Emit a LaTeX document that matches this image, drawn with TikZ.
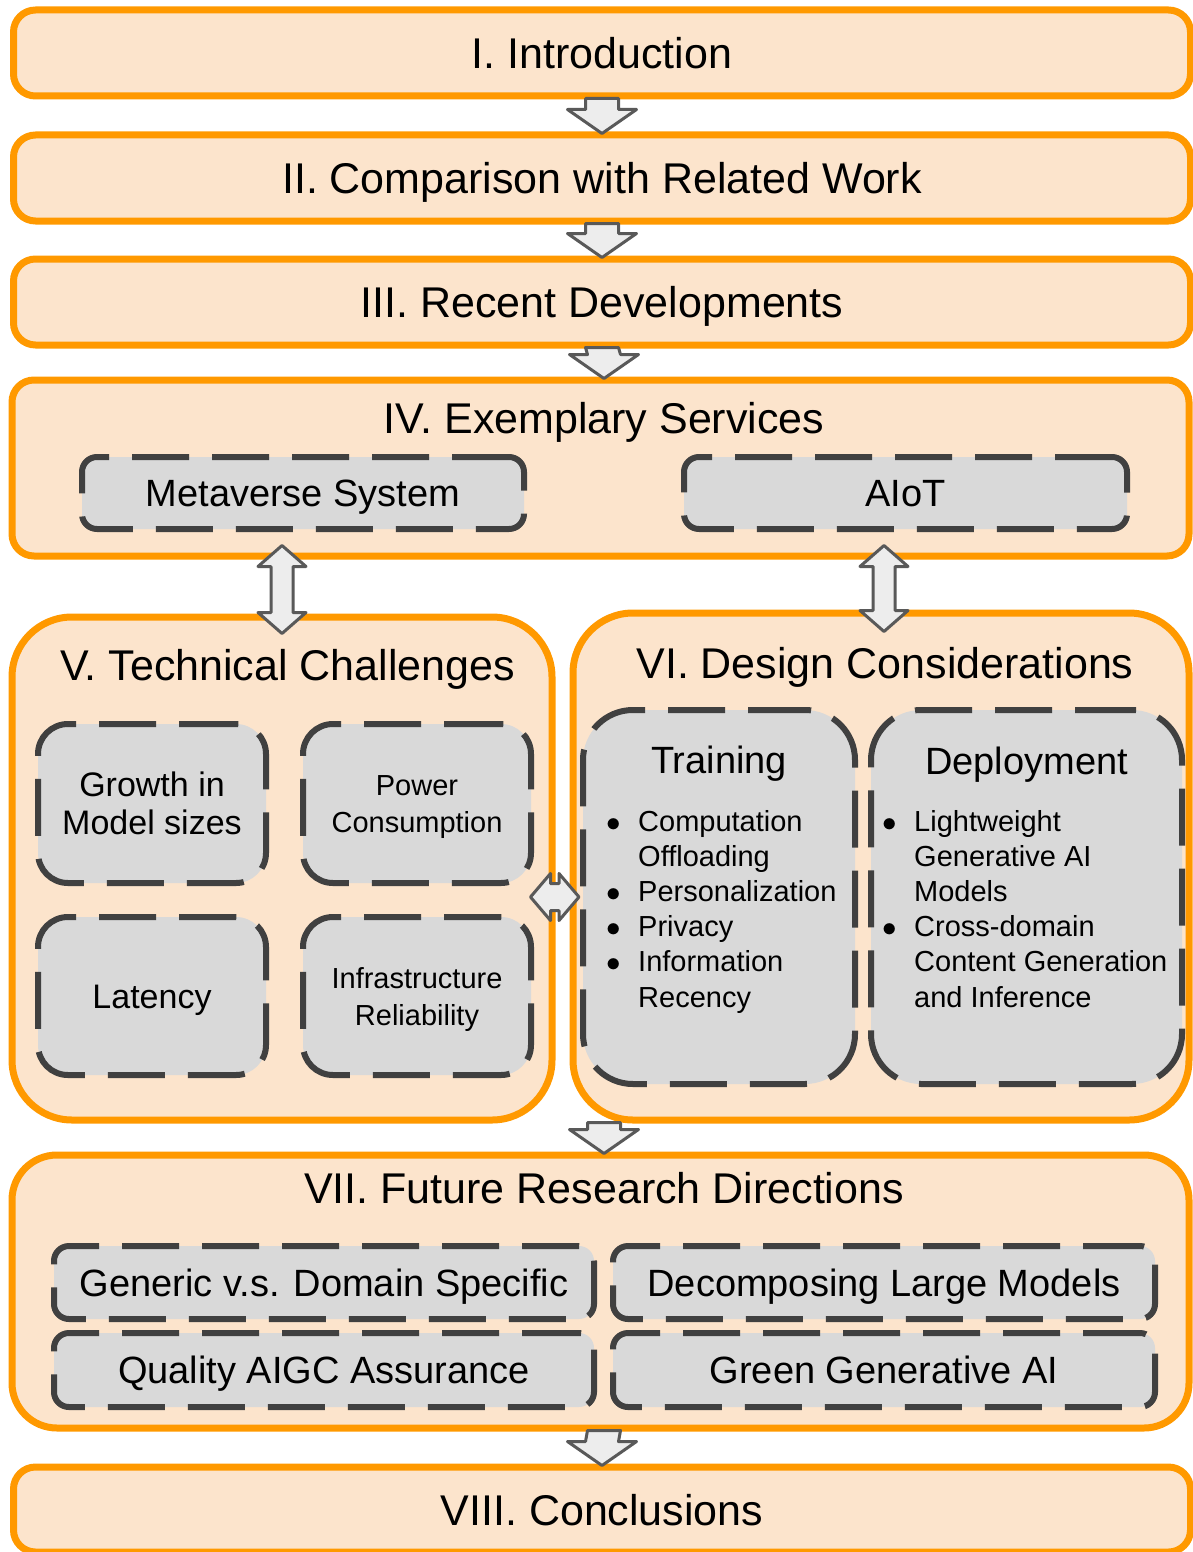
\RequirePackage{fix-cm}
\documentclass[tikz,border=0pt]{standalone}
\usepackage{fontspec}
\setmainfont{Liberation Sans}
\usetikzlibrary{calc}

\definecolor{secfill}{HTML}{FCE4CC}
\definecolor{secline}{HTML}{FF9900}
\definecolor{subfill}{HTML}{D9D9D9}
\definecolor{subline}{HTML}{404040}
\definecolor{arrfill}{HTML}{EDEDED}
\definecolor{arrline}{HTML}{595959}

\newcommand{\bigfont}{\fontsize{43}{52}\selectfont}
\newcommand{\midfont}{\fontsize{38}{46}\selectfont}
\newcommand{\growfont}{\fontsize{34}{38}\selectfont}
\newcommand{\smallfont}{\fontsize{29}{37}\selectfont}
\newcommand{\listfont}{\fontsize{29}{35.2}\selectfont}
\newcommand{\bitem}{\makebox[32pt][l]{$\bullet$}}
\newcommand{\bcont}{\hspace*{32pt}}

% block arrows: down, up-down, left-right
\newcommand{\flowdown}[2]{%
  \draw[blockarrow] ($#1+(-16.5,-1)$) -- ($#1+(16.5,-1)$)
    -- ($#2+(16.5,-22)$) -- ($#2+(34.5,-22)$) -- ($#2+(0,2)$)
    -- ($#2+(-34.5,-22)$) -- ($#2+(-16.5,-22)$) -- cycle;}
\newcommand{\flowboth}[2]{%
  \draw[blockarrow] #1 -- ($#1+(24,21)$) -- ($#1+(11,21)$)
    -- ($#2+(11,-21)$) -- ($#2+(24,-21)$) -- #2 -- ($#2+(-24,-21)$)
    -- ($#2+(-11,-21)$) -- ($#1+(-11,21)$) -- ($#1+(-24,21)$) -- cycle;}
\newcommand{\flowside}[2]{%
  \draw[blockarrow] #1 -- ($#1+(20,-23.5)$) -- ($#1+(20,-13.5)$)
    -- ($#2+(-20,-13.5)$) -- ($#2+(-20,-23.5)$) -- #2 -- ($#2+(-20,23.5)$)
    -- ($#2+(-20,13.5)$) -- ($#1+(20,13.5)$) -- ($#1+(20,23.5)$) -- cycle;}

\begin{document}
\begin{tikzpicture}[x=1pt, y=-1pt,
    secbox/.style={rectangle, draw=secline, fill=secfill, line width=7pt, rounded corners=22pt, inner sep=0pt, minimum width=1177pt, minimum height=86pt, font=\bigfont, text height=31pt, text depth=0pt},
    subbox/.style={rectangle, draw=subline, fill=subfill, line width=6pt, dash pattern=on 57pt off 23pt, rounded corners=15pt, inner sep=0pt, align=center},
    itembox/.style={subbox, font=\midfont, text height=27pt, text depth=0pt},
    sectitle/.style={anchor=base, inner sep=0pt, font=\bigfont},
    subtitle/.style={anchor=base, inner sep=0pt, font=\midfont},
    bullets/.style={anchor=base west, inner sep=0pt, align=left, font=\listfont},
    blockarrow/.style={draw=arrline, fill=arrfill, line width=3pt, line join=round},
  ]
    \useasboundingbox (0,0) rectangle (1193,1552);

    % Sections I-III
    \node[secbox] (intro) at (602,53) {I. Introduction};
    \node[secbox] (related) at (602,178) {II. Comparison with Related Work};
    \node[secbox] (recent) at (602,302) {III. Recent Developments};

    % IV
    \node[secbox, minimum height=176pt] (services) at (600.5,468) {};
    \node[sectitle] (services-t) at (604,433) {IV. Exemplary Services};
    \node[itembox, minimum width=442pt, minimum height=72pt] (metaverse) at (303,493) {Metaverse System};
    \node[itembox, minimum width=443pt, minimum height=72pt] (aiot) at (905.5,493) {AIoT};

    % V
    \node[secbox, rounded corners=60pt, minimum width=540pt, minimum height=503pt] (techchal) at (282,868.5) {};
    \node[sectitle] (techchal-t) at (287.5,680) {V. Technical Challenges};
    \node[subbox, rounded corners=30pt, font=\growfont, minimum width=228pt, minimum height=159pt, text height=62.5pt, text depth=0pt] (growth) at (152,803.5) {Growth in\\Model sizes};
    \node[subbox, rounded corners=30pt, font=\smallfont, minimum width=228pt, minimum height=159pt, text height=58pt, text depth=0pt] (power) at (417,803.5) {Power\\Consumption};
    \node[subbox, rounded corners=30pt, font=\growfont, minimum width=228pt, minimum height=158pt, text height=24.5pt, text depth=0pt] (latency) at (152,996) {Latency};
    \node[subbox, rounded corners=30pt, font=\smallfont, minimum width=228pt, minimum height=158pt, text height=58pt, text depth=0pt] (infra) at (417,996) {Infrastructure\\Reliability};

    % VI
    \node[secbox, rounded corners=60pt, minimum width=616pt, minimum height=507pt] (design) at (881,866.5) {};
    \node[sectitle] (design-t) at (885,678) {VI. Design Considerations};
    \node[subbox, rounded corners=50pt, minimum width=272pt, minimum height=374pt] (training) at (719,897) {};
    \node[subbox, rounded corners=50pt, minimum width=311pt, minimum height=374pt] (deploy) at (1026.5,897) {};
    \node[subtitle] (training-t) at (719,773) {Training};
    \node[subtitle] (deploy-t) at (1026.5,774) {Deployment};
    \node[bullets] (training-l) at (606,1007) {\bitem Computation\\\bcont Offloading\\\bitem Personalization\\\bitem Privacy\\\bitem Information\\\bcont Recency};
    \node[bullets] (deploy-l) at (882,1007) {\bitem Lightweight\\\bcont Generative AI\\\bcont Models\\\bitem Cross-domain\\\bcont Content Generation\\\bcont and Inference};

    % VII
    \node[secbox, rounded corners=45pt, minimum height=273pt] (future) at (600.5,1291.5) {};
    \node[sectitle] (future-t) at (604,1203) {VII. Future Research Directions};
    \node[itembox, minimum width=540pt, minimum height=73pt] (generic) at (324,1282.5) {Generic v.s. Domain Specific};
    \node[itembox, minimum width=542pt, minimum height=73pt] (decomp) at (884,1282.5) {Decomposing Large Models};
    \node[itembox, minimum width=540pt, minimum height=74pt] (quality) at (324,1370) {Quality AIGC Assurance};
    \node[itembox, minimum width=542pt, minimum height=74pt] (green) at (884,1370) {Green Generative AI};

    % VIII
    \node[secbox, minimum height=85pt] (concl) at (602,1509.5) {VIII. Conclusions};

    % Arrows
    \flowdown{(intro.south)}{(related.north)}
    \flowdown{(related.south)}{(recent.north)}
    \flowdown{(recent.south)}{(services-t.north |- services.north)}
    \coordinate (vtop) at (future-t.north |- design.south);
    \flowdown{(vtop)}{(future-t.north |- future.north)}
    \flowdown{(future-t.north |- future.south)}{(concl.north)}

    \coordinate (ltop) at ($(techchal.north |- services.south)+(0,-14)$);
    \coordinate (lbot) at ($(techchal.north)+(0,20)$);
    \flowboth{(ltop)}{(lbot)}
    \coordinate (rtop) at ($(design.north |- services.south)+(3,-14)$);
    \coordinate (rbot) at ($(design.north)+(3,22)$);
    \flowboth{(rtop)}{(rbot)}

    \coordinate (hleft) at ($(techchal.east |- training.west)+(-25,0)$);
    \coordinate (hright) at ($(training.west)+(-1,0)$);
    \flowside{(hleft)}{(hright)}
\end{tikzpicture}
\end{document}
